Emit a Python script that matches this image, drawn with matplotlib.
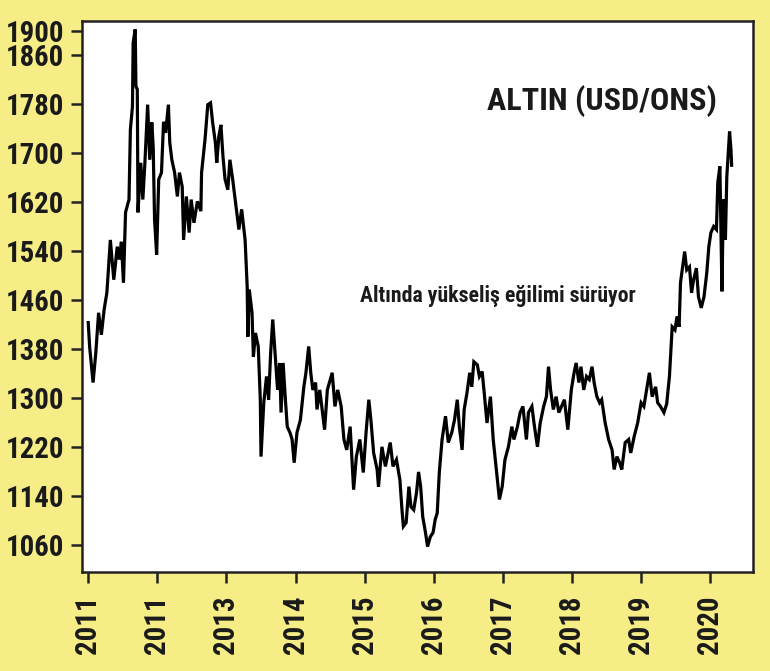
import matplotlib
matplotlib.use("Agg")
import matplotlib.pyplot as plt
from matplotlib import font_manager
from matplotlib.textpath import TextPath

# --- Data ---
years = [
    2011.00, 2011.02, 2011.07, 2011.11, 2011.15, 2011.19, 2011.23, 2011.27, 2011.32, 2011.37,
    2011.42, 2011.45, 2011.48, 2011.51, 2011.54, 2011.59, 2011.61, 2011.64, 2011.65, 2011.68,
    2011.69, 2011.71, 2011.72, 2011.76, 2011.79, 2011.82, 2011.86, 2011.89, 2011.92, 2011.94,
    2011.96, 2011.99, 2012.02, 2012.06, 2012.09, 2012.12, 2012.16, 2012.18, 2012.21, 2012.25,
    2012.29, 2012.32, 2012.36, 2012.38, 2012.42, 2012.46, 2012.49, 2012.53, 2012.58, 2012.63,
    2012.64, 2012.69, 2012.73, 2012.77, 2012.80, 2012.84, 2012.86, 2012.89, 2012.92, 2012.95,
    2012.98, 2013.02, 2013.05, 2013.09, 2013.14, 2013.18, 2013.22, 2013.27, 2013.30, 2013.31,
    2013.33, 2013.37, 2013.39, 2013.42, 2013.46, 2013.49, 2013.50, 2013.54, 2013.58, 2013.61,
    2013.64, 2013.67, 2013.71, 2013.74, 2013.77, 2013.79, 2013.82, 2013.85, 2013.88, 2013.92,
    2013.95, 2013.98, 2014.02, 2014.07, 2014.12, 2014.15, 2014.19, 2014.22, 2014.25, 2014.29,
    2014.31, 2014.35, 2014.42, 2014.46, 2014.53, 2014.57, 2014.61, 2014.66, 2014.70, 2014.74,
    2014.79, 2014.84, 2014.88, 2014.93, 2014.98, 2015.02, 2015.06, 2015.09, 2015.13, 2015.18,
    2015.20, 2015.25, 2015.30, 2015.34, 2015.37, 2015.41, 2015.46, 2015.51, 2015.54, 2015.56,
    2015.60, 2015.64, 2015.67, 2015.71, 2015.75, 2015.78, 2015.81, 2015.84, 2015.88, 2015.91,
    2015.95, 2015.99, 2016.02, 2016.05, 2016.08, 2016.12, 2016.17, 2016.21, 2016.26, 2016.30,
    2016.34, 2016.37, 2016.41, 2016.44, 2016.48, 2016.52, 2016.55, 2016.58, 2016.63, 2016.66,
    2016.70, 2016.73, 2016.77, 2016.82, 2016.86, 2016.90, 2016.95, 2016.99, 2017.03, 2017.08,
    2017.13, 2017.16, 2017.21, 2017.25, 2017.29, 2017.34, 2017.37, 2017.42, 2017.45, 2017.50,
    2017.54, 2017.59, 2017.63, 2017.66, 2017.69, 2017.73, 2017.77, 2017.81, 2017.89, 2017.94,
    2017.99, 2018.03, 2018.06, 2018.10, 2018.13, 2018.17, 2018.21, 2018.25, 2018.29, 2018.32,
    2018.36, 2018.40, 2018.43, 2018.48, 2018.53, 2018.58, 2018.61, 2018.65, 2018.69, 2018.72,
    2018.77, 2018.82, 2018.85, 2018.90, 2018.95, 2019.00, 2019.04, 2019.08, 2019.12, 2019.16,
    2019.21, 2019.24, 2019.28, 2019.33, 2019.37, 2019.41, 2019.45, 2019.49, 2019.52, 2019.55,
    2019.57, 2019.60, 2019.63, 2019.66, 2019.70, 2019.73, 2019.76, 2019.80, 2019.83, 2019.87,
    2019.91, 2019.95, 2019.98, 2020.01, 2020.05, 2020.09, 2020.11, 2020.14, 2020.17, 2020.19,
    2020.22, 2020.24, 2020.27, 2020.28, 2020.30, 2020.31,
]
price = [
    1423, 1384, 1325, 1374, 1439, 1403, 1444, 1472, 1558, 1493,
    1547, 1526, 1555, 1488, 1603, 1624, 1738, 1776, 1880, 1902,
    1809, 1804, 1603, 1684, 1624, 1684, 1779, 1689, 1750, 1710,
    1591, 1534, 1657, 1668, 1751, 1733, 1779, 1717, 1689, 1668,
    1629, 1668, 1645, 1558, 1629, 1570, 1624, 1586, 1621, 1605,
    1668, 1722, 1779, 1782, 1750, 1717, 1684, 1727, 1746, 1694,
    1657, 1640, 1689, 1657, 1612, 1575, 1608, 1558, 1482, 1400,
    1477, 1439, 1367, 1406, 1384, 1297, 1204, 1292, 1335, 1297,
    1374, 1428, 1362, 1313, 1357, 1276, 1357, 1302, 1253, 1243,
    1232, 1194, 1243, 1264, 1318, 1341, 1384, 1341, 1313, 1325,
    1281, 1313, 1248, 1313, 1341, 1286, 1313, 1286, 1232, 1215,
    1253, 1150, 1204, 1232, 1178, 1243, 1297, 1264, 1210, 1183,
    1155, 1220, 1188, 1210, 1227, 1188, 1199, 1166, 1117, 1090,
    1096, 1155, 1122, 1117, 1145, 1179, 1155, 1106, 1080, 1057,
    1073, 1080, 1101, 1112, 1178, 1232, 1270, 1227, 1243, 1264,
    1297, 1253, 1215, 1281, 1308, 1341, 1318, 1359, 1354, 1335,
    1343, 1308, 1259, 1302, 1232, 1188, 1134, 1155, 1199, 1220,
    1253, 1232, 1253, 1276, 1286, 1232, 1276, 1286, 1259, 1220,
    1259, 1286, 1302, 1351, 1313, 1281, 1302, 1276, 1297, 1248,
    1313, 1341, 1357, 1325, 1351, 1313, 1335, 1330, 1351, 1325,
    1302, 1292, 1297, 1259, 1232, 1215, 1183, 1204, 1194, 1183,
    1227, 1232, 1210, 1237, 1259, 1292, 1286, 1313, 1341, 1302,
    1318, 1292, 1286, 1276, 1290, 1335, 1416, 1411, 1433, 1416,
    1488, 1514, 1539, 1509, 1514, 1472, 1493, 1512, 1465, 1447,
    1465, 1504, 1547, 1570, 1580, 1575, 1652, 1678, 1474, 1624,
    1558, 1661, 1717, 1735, 1706, 1680,
]

y_ticks = [1060, 1140, 1220, 1300, 1380, 1460, 1540, 1620, 1700, 1780, 1860, 1900]
x_ticks = [2011, 2012, 2013, 2014, 2015, 2016, 2017, 2018, 2019, 2020]
x_labels = ["2011", "2011", "2013", "2014", "2015", "2016", "2017", "2018", "2019", "2020"]

title = "ALTIN (USD/ONS)"
note = "Altında yükseliş eğilimi sürüyor"

# --- Font: pick the narrowest bold sans that is installed ---
BG = "#F6ED86"
candidates = ["Liberation Sans Narrow", "Roboto Condensed", "Open Sans Condensed",
              "DejaVu Sans Condensed", "Nimbus Sans Narrow", "Arial Narrow",
              "Liberation Sans", "Roboto", "DejaVu Sans"]
font = "DejaVu Sans"
for c in candidates:
    try:
        font_manager.findfont(font_manager.FontProperties(family=c, weight="bold"),
                              fallback_to_default=False)
        font = c
        break
    except Exception:
        pass
plt.rcParams["font.family"] = [font, "DejaVu Sans"]
plt.rcParams["font.weight"] = "bold"
plt.rcParams["font.stretch"] = "condensed"


def fit_size(s, width_px, cap_px):
    # font size (pt) so that the text is about width_px wide and caps about cap_px tall
    fp = font_manager.FontProperties(family=[font, "DejaVu Sans"], weight="bold", stretch="condensed")
    ext = TextPath((0, 0), s, size=10, prop=fp).get_extents()
    cap = TextPath((0, 0), "H", size=10, prop=fp).get_extents().height
    w = ext.width * 100 / 72
    h = cap * 100 / 72
    return min(10 * width_px / w, 10 * cap_px / h)


ytick_fs = fit_size("1900", 55, 21.5)
xtick_fs = fit_size("2011", 53, 24)
title_fs = fit_size(title, 228, 33)
note_fs = fit_size(note, 286, 15.5)

fig = plt.figure(figsize=(7.7, 6.71), dpi=100, facecolor=BG)
ax = fig.add_axes([0.1065, 0.148, 0.8715, 0.821])
ax.set_facecolor("white")

ax.plot(years, price, color="black", lw=2.3, solid_joinstyle="miter")

ax.set_xlim(2010.91, 2020.62)
ax.set_ylim(1016, 1916)

ax.set_yticks(y_ticks)
ax.set_yticklabels([str(v) for v in y_ticks], fontsize=ytick_fs, fontweight="bold")
ax.set_xticks(x_ticks)
ax.set_xticklabels(x_labels, rotation=90, fontsize=xtick_fs, fontweight="bold")

ax.tick_params(axis="both", direction="out", length=8, width=1.8, color="#222222", labelcolor="#1a1a1a")
ax.tick_params(axis="y", pad=5)
ax.tick_params(axis="x", pad=9)

for s in ax.spines.values():
    s.set_linewidth(1.8)
    s.set_color("#222222")

ax.text(0.946, 0.838, title, transform=ax.transAxes, ha="right", va="baseline",
        fontsize=title_fs, fontweight="bold", color="#1a1a1a")
ax.text(0.415, 0.4897, note, transform=ax.transAxes, ha="left", va="baseline",
        fontsize=note_fs, fontweight="bold", color="#1a1a1a")

fig.savefig("out.png", dpi=100, facecolor=BG)
